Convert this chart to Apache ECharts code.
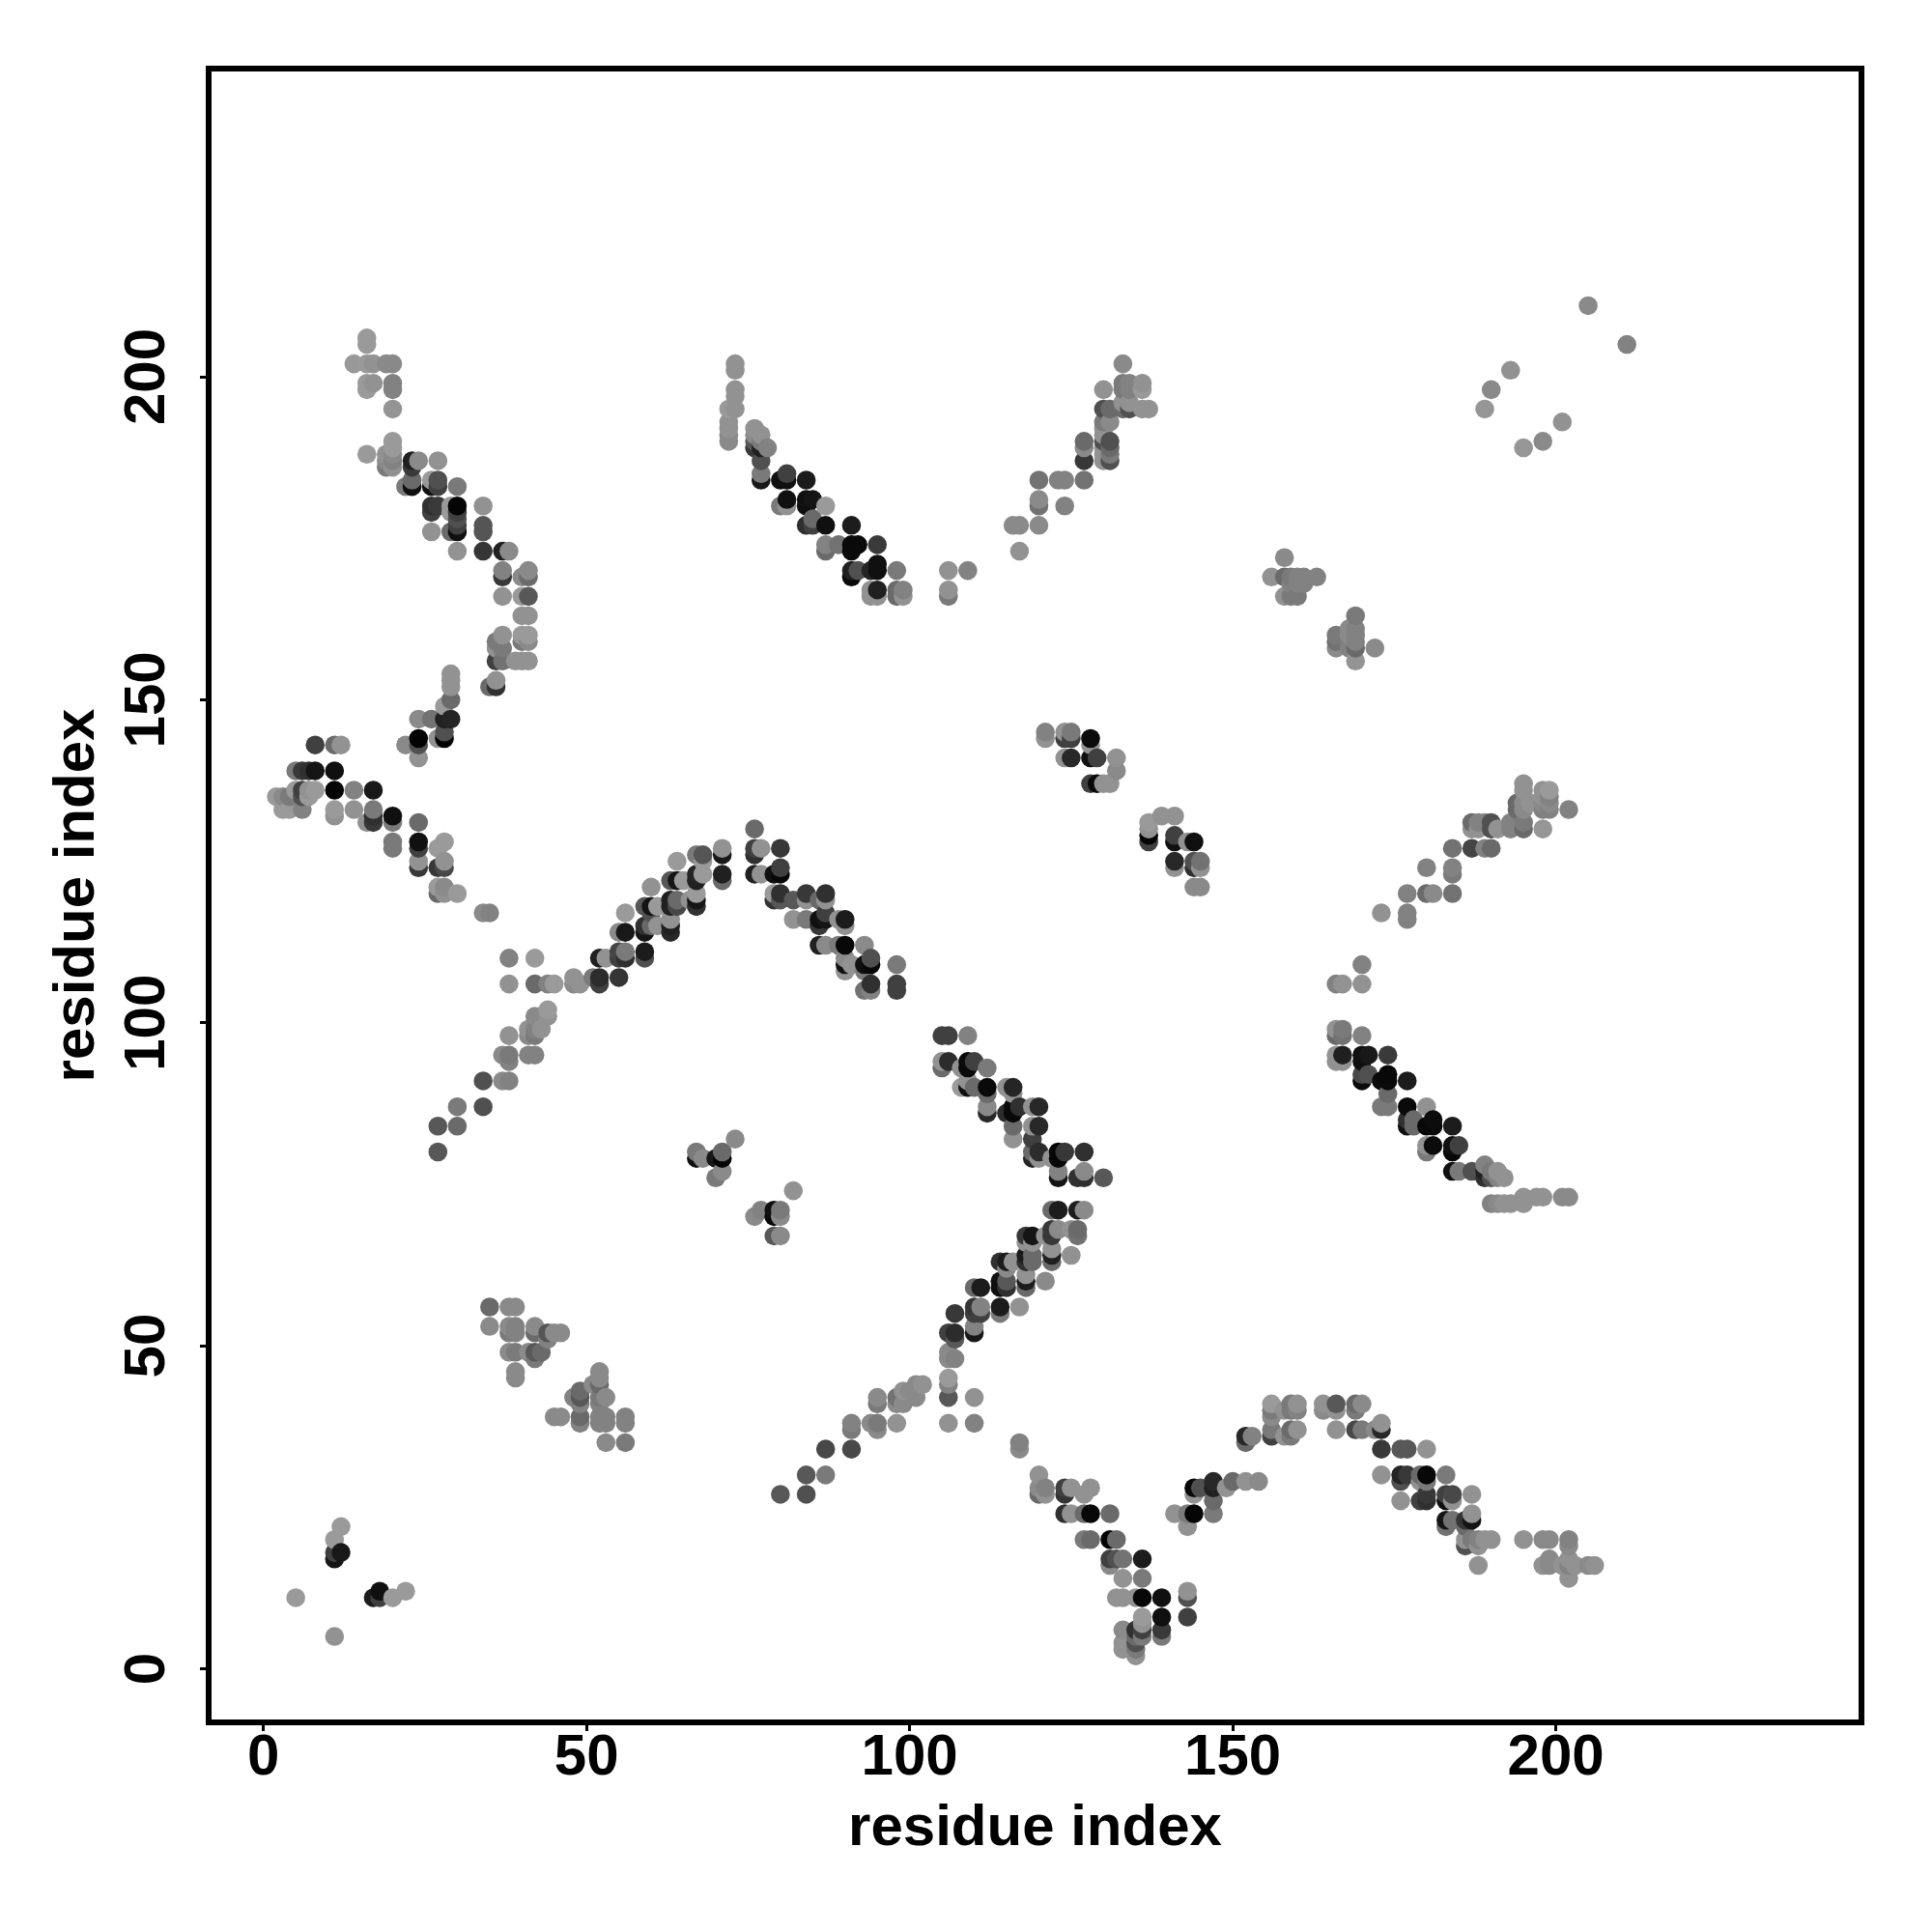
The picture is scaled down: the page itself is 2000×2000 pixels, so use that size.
<!DOCTYPE html>
<html><head><meta charset="utf-8">
<script src="https://cdn.jsdelivr.net/npm/echarts@6/dist/echarts.min.js"></script>
<style>html,body{margin:0;padding:0;background:#fff}#c{width:2000px;height:2000px}</style>
</head><body><div id="c"></div>
<script>
// each entry: [residue x, residue y, grey level of the dot]
const topLeftArc = [[16,206,0x90],[16,205,0x90],[14,202,0x8f],[16,202,0x90],[17,202,0x88],[19,202,0x80],[20,202,0x7f],[16,199,0x90],[16,198,0x90],[17,199,0x88],[20,199,0x78],[20,198,0x78],[20,195,0x8a],[20,190,0x90],[20,189,0x90],[19,188,0x88],[16,188,0x90],[19,186,0x70],[19,187,0x80],[20,188,0x80],[20,187,0x78],[20,186,0x88],[23,187,0x20],[23,186,0x3a],[24,187,0x80],[27,187,0x88],[22,183,0x70],[23,184,0x60],[23,183,0x10],[26,184,0x90],[26,183,0x10],[27,184,0x50],[27,183,0x40],[30,183,0x70],[26,180,0x30],[27,180,0x3a],[26,179,0x40],[29,180,0x90],[30,180,0x05],[29,179,0x90],[30,179,0x40],[30,178,0x50],[30,177,0x40],[30,176,0x10],[29,176,0x60],[34,180,0x88],[34,177,0x55],[34,176,0x55],[26,176,0x88],[30,173,0x88],[34,173,0x35],[37,173,0x20],[38,173,0x80],[37,170,0x78],[37,169,0x38],[40,169,0x80],[41,170,0x80],[41,169,0x60],[37,166,0x88],[40,166,0x90],[41,166,0x58],[40,163,0x88],[41,163,0x88],[37,160,0x88],[36,159,0x70],[37,158,0x70],[36,158,0x88],[40,160,0x90],[41,160,0x90],[40,159,0x70],[41,159,0x80],[36,156,0x40],[37,156,0x68],[39,156,0x88],[40,156,0x88],[41,156,0x88],[36,153,0x88],[35,152,0x60],[36,152,0x30],[29,154,0x88],[29,153,0x88],[29,152,0x88],[29,150,0x60],[28,149,0x90],[24,147,0x80],[26,147,0x68],[28,147,0x20],[29,147,0x25],[22,143,0x80],[24,144,0x03],[24,143,0x50],[24,141,0x88],[27,144,0x88],[28,144,0x05],[28,145,0x50],[8,143,0x40],[11,143,0x60],[12,143,0x88],[5,139,0x70],[6,139,0x38],[7,139,0x30],[8,139,0x15],[11,139,0x10]];
const middleLeftBand = [[2,135,0x90],[3,135,0x80],[4,135,0x70],[5,136,0x90],[6,136,0x40],[7,136,0x88],[8,136,0x90],[6,135,0x50],[7,135,0x90],[3,133,0x90],[4,133,0x90],[6,133,0x78],[11,136,0x05],[14,136,0x78],[17,136,0x18],[11,133,0x90],[11,132,0x88],[14,133,0x88],[16,131,0x88],[17,133,0x70],[17,132,0x30],[17,131,0x38],[20,132,0x10],[20,131,0x70],[24,131,0x60],[20,128,0x70],[20,127,0x70],[24,128,0x10],[24,127,0x40],[24,125,0x88],[24,124,0x38],[28,128,0x90],[27,127,0x90],[28,125,0x88],[27,124,0x38],[28,124,0x48],[27,121,0x90],[28,121,0x80],[27,120,0x60],[28,120,0x88],[30,120,0x90],[34,117,0x80],[35,117,0x78],[38,110,0x78],[42,110,0x90],[38,106,0x88],[42,106,0x60],[44,106,0x78],[45,106,0x90],[48,107,0x88],[48,106,0x80],[49,106,0x88],[51,107,0x70],[52,107,0x2c],[52,106,0x40],[55,107,0x35]];
const centralPeak = [[52,110,0x20],[53,110,0x88],[55,111,0x45],[56,111,0x70],[55,110,0x40],[56,110,0x30],[59,111,0x1c],[59,110,0x50],[55,114,0x80],[56,114,0x18],[59,115,0x30],[59,114,0x15],[60,115,0x60],[61,115,0x88],[63,116,0x88],[63,115,0x20],[63,114,0x28],[56,117,0x90],[59,118,0x58],[60,118,0x15],[61,118,0x90],[60,117,0x50],[60,121,0x88],[63,119,0x20],[63,118,0x20],[64,119,0x60],[64,118,0x48],[63,122,0x58],[64,122,0x15],[65,122,0x90],[66,119,0x88],[67,119,0x15],[67,118,0x30],[64,125,0x90],[67,126,0x70],[68,126,0x55],[68,125,0x90],[67,123,0x25],[67,122,0x20],[68,123,0x90],[67,120,0x90],[71,127,0x88],[71,126,0x18],[71,123,0x20],[71,122,0x60],[76,130,0x60],[76,127,0x40],[76,126,0x30],[77,127,0x88],[80,127,0x38],[76,123,0x20],[77,123,0x88],[79,123,0x10],[80,124,0x40],[80,123,0x08],[79,120,0x90],[79,119,0x35],[80,120,0x30],[80,119,0x58],[82,119,0x58],[84,120,0x38],[84,119,0x88],[86,119,0x60],[87,120,0x30],[87,119,0x88],[82,116,0x88],[84,116,0x70],[86,116,0x10],[86,115,0x38],[87,117,0x40],[87,116,0x15],[89,116,0x88],[90,116,0x1c],[90,115,0x88],[86,112,0x20],[87,112,0x80],[89,112,0x70],[90,112,0x08],[93,112,0x80],[90,110,0x80],[90,109,0x10],[90,108,0x88],[91,109,0x88],[93,109,0x10],[94,110,0x50],[94,109,0x08],[93,108,0x70],[93,105,0x68],[94,106,0x30],[94,105,0x78],[98,109,0x70],[98,106,0x40],[98,105,0x40]];
const topMiddleArc = [[73,202,0x88],[73,201,0x88],[73,198,0x88],[73,197,0x88],[72,195,0x90],[73,195,0x88],[72,193,0x88],[72,192,0x88],[72,191,0x80],[72,190,0x80],[76,192,0x88],[77,191,0x88],[76,191,0x80],[76,190,0x58],[76,189,0x38],[77,190,0x70],[77,189,0x20],[78,189,0x78],[77,187,0x50],[77,185,0x70],[77,184,0x18],[80,184,0x10],[81,185,0x40],[81,184,0x10],[84,184,0x1c],[80,180,0x70],[81,181,0x10],[81,180,0x88],[84,181,0x10],[85,181,0x15],[84,180,0x10],[87,180,0x90],[84,177,0x30],[85,178,0x60],[85,177,0x40],[87,177,0x10],[91,177,0x1c],[87,174,0x78],[87,173,0x60],[89,174,0x68],[91,174,0x0a],[92,174,0x0a],[91,173,0x0a],[95,174,0x3a],[91,170,0x20],[91,169,0x0a],[92,170,0x50],[94,170,0x25],[95,171,0x10],[95,170,0x10],[98,170,0x70],[94,167,0x88],[95,167,0x20],[95,166,0x88],[94,166,0x88],[98,167,0x60],[98,166,0x60],[99,167,0x78],[99,166,0x88],[106,170,0x88],[109,170,0x78],[106,167,0x88],[106,166,0x70],[117,173,0x88],[116,177,0x80],[117,177,0x80],[120,177,0x80],[120,181,0x80],[120,180,0x68],[124,180,0x78],[120,184,0x68],[123,184,0x78],[124,184,0x78],[127,184,0x68],[127,187,0x38],[127,189,0x80],[127,190,0x60],[130,193,0x70],[130,192,0x88],[130,191,0x88],[130,190,0x50],[130,189,0x88],[130,188,0x88],[130,187,0x88],[131,190,0x50],[131,189,0x60],[131,188,0x70],[131,187,0x50],[131,193,0x80],[130,195,0x50],[131,195,0x60],[130,198,0x88],[133,202,0x80],[133,199,0x70],[134,199,0x78],[133,198,0x70],[134,198,0x78],[136,199,0x88],[136,198,0x90],[133,195,0x60],[134,195,0x50],[134,196,0x88],[133,196,0x88],[136,195,0x88],[137,195,0x88]];
const topRightPatches = [[205,211,0x80],[211,205,0x78],[193,201,0x88],[190,198,0x80],[189,195,0x8c],[201,193,0x88],[198,190,0x80],[195,189,0x8c],[158,172,0x80],[156,169,0x88],[158,169,0x60],[159,169,0x70],[160,169,0x78],[161,169,0x78],[163,169,0x78],[158,166,0x88],[159,166,0x70],[160,166,0x70],[160,168,0x78],[161,168,0x78],[159,168,0x78],[169,163,0x70],[168,161,0x80],[169,161,0x78],[169,160,0x78],[168,160,0x80],[166,160,0x70],[166,159,0x68],[166,158,0x80],[169,159,0x78],[169,158,0x60],[168,158,0x78],[172,158,0x80],[169,156,0x8a]];
const midRightPatch = [[121,145,0x78],[121,144,0x88],[124,145,0x88],[124,144,0x40],[125,145,0x70],[125,144,0x40],[128,144,0x0c],[128,143,0x88],[124,141,0x88],[125,141,0x28],[128,141,0x10],[129,141,0x40],[132,141,0x88],[132,139,0x80],[128,137,0x40],[129,137,0x0a],[130,137,0x88],[131,137,0x88],[137,131,0x90],[137,130,0x88],[137,129,0x05],[137,128,0x40],[139,132,0x88],[141,132,0x88],[141,129,0x40],[141,128,0x10],[143,128,0x88],[144,128,0x10],[141,125,0x28],[141,124,0x88],[144,125,0x50],[145,125,0x68],[144,124,0x30],[145,124,0x88],[144,121,0x80],[145,121,0x80]];
const rightArcUpper = [[195,137,0x88],[195,136,0x88],[194,134,0x60],[195,134,0x80],[196,134,0x88],[195,133,0x80],[194,133,0x60],[198,136,0x88],[199,136,0x90],[198,135,0x88],[199,135,0x78],[198,133,0x78],[199,133,0x78],[198,134,0x80],[199,134,0x80],[202,133,0x78],[198,130,0x8c],[195,131,0x70],[195,130,0x60],[193,131,0x78],[193,130,0x78],[191,130,0x88],[187,131,0x60],[187,130,0x88],[188,131,0x78],[189,131,0x78],[190,131,0x50],[190,130,0x50],[188,130,0x88],[184,127,0x68],[187,127,0x45],[189,127,0x78],[190,127,0x60],[180,124,0x78],[184,124,0x78],[184,123,0x70],[177,120,0x78],[180,120,0x60],[181,120,0x80],[184,120,0x68],[173,117,0x88],[177,117,0x78],[177,116,0x78],[170,109,0x78],[166,106,0x78],[167,106,0x88],[170,106,0x88]];
const rightArcLower = [[166,99,0x88],[167,99,0x70],[166,98,0x60],[167,98,0x68],[170,98,0x78],[166,95,0x88],[167,95,0x20],[166,94,0x88],[167,94,0x88],[170,95,0x10],[171,95,0x18],[170,94,0x10],[174,95,0x3a],[170,92,0x48],[171,92,0x50],[170,91,0x0a],[173,91,0x0a],[174,92,0x08],[174,91,0x0a],[177,91,0x1c],[174,89,0x60],[173,87,0x70],[174,87,0x70],[177,87,0x0a],[180,87,0x88],[177,85,0x30],[177,84,0x10],[178,85,0x60],[178,84,0x60],[180,84,0x08],[181,85,0x0c],[181,84,0x0a],[184,84,0x1c],[180,81,0x88],[180,80,0x70],[181,81,0x0c],[184,81,0x10],[184,80,0x08],[185,81,0x40],[184,77,0x10],[185,77,0x70],[187,77,0x50],[189,78,0x78],[189,76,0x30],[190,77,0x70],[191,77,0x88],[192,76,0x88],[189,77,0x20],[190,76,0x50],[191,76,0x78],[190,72,0x78],[191,72,0x80],[192,72,0x88],[193,72,0x88],[195,73,0x88],[195,72,0x88],[197,73,0x88],[198,73,0x88],[201,73,0x80],[202,73,0x80]];
const centerZigZag = [[105,98,0x40],[106,98,0x40],[109,98,0x78],[105,94,0x88],[105,93,0x60],[106,94,0x2c],[108,93,0x88],[109,94,0x0a],[109,93,0x0a],[110,94,0x40],[112,93,0x70],[108,90,0x90],[109,90,0x10],[109,91,0x88],[110,90,0x60],[112,90,0x0a],[112,89,0x60],[112,87,0x80],[112,86,0x28],[115,90,0x88],[116,90,0x25],[116,89,0x88],[115,86,0x2c],[116,87,0x0a],[116,86,0x0a],[117,87,0x30],[119,87,0x88],[120,87,0x28],[116,84,0x60],[116,82,0x88],[119,84,0x88],[120,84,0x28],[119,82,0x40],[119,80,0x60],[119,79,0x25],[120,80,0x2c],[120,79,0x88],[122,79,0x88],[123,80,0x05],[123,79,0x08],[124,80,0x38],[127,80,0x30],[123,77,0x78],[123,76,0x15],[126,76,0x30],[127,77,0x80],[127,76,0x30],[130,76,0x58],[122,71,0x60],[123,71,0x1c],[126,71,0x1c],[127,71,0x80],[122,68,0x38],[122,67,0x38],[123,68,0x80],[126,68,0x60],[126,67,0x68],[125,68,0x88],[118,67,0x38],[119,67,0x15],[121,67,0x88],[118,66,0x88],[119,66,0x88],[122,65,0x88],[122,64,0x20],[122,63,0x60],[125,64,0x88],[118,64,0x1c],[119,64,0x60],[118,63,0x30],[119,63,0x60],[114,63,0x30],[115,63,0x1c],[116,63,0x88],[115,62,0x80],[114,60,0x10],[115,60,0x58],[115,59,0x30],[114,59,0x10],[118,61,0x88],[118,60,0x1c],[118,59,0x60],[121,60,0x80],[110,59,0x60],[111,59,0x1c],[114,56,0x1c],[114,55,0x70],[117,56,0x88],[107,55,0x38],[110,56,0x35],[111,56,0x78],[110,55,0x40],[111,55,0x40],[106,52,0x40],[107,52,0x2c],[107,51,0x58],[110,53,0x78],[110,52,0x18],[106,49,0x80],[106,48,0x80],[107,48,0x78],[106,45,0x90],[106,44,0x78],[106,42,0x58],[110,42,0x88]];
const lowerCenterArc = [[80,27,0x58],[84,27,0x50],[84,30,0x58],[87,30,0x70],[87,34,0x48],[91,34,0x48],[91,38,0x78],[91,37,0x70],[94,38,0x80],[95,38,0x70],[95,37,0x80],[98,38,0x88],[95,42,0x80],[95,41,0x70],[98,42,0x68],[98,41,0x80],[99,43,0x88],[99,41,0x80],[101,42,0x80],[101,44,0x80],[102,44,0x88],[100,43,0x80],[106,38,0x88],[110,38,0x78],[117,35,0x78],[117,34,0x80],[120,30,0x88],[120,28,0x80],[120,27,0x60],[121,28,0x78],[121,27,0x88],[124,28,0x40],[124,27,0x35],[125,28,0x88],[127,27,0x88],[128,28,0x88],[124,24,0x30],[125,24,0x88],[127,24,0x60],[128,24,0x08],[131,24,0x60],[127,20,0x70],[128,20,0x60],[131,20,0x05],[132,20,0x60],[131,17,0x40],[132,17,0x50],[133,17,0x68],[136,17,0x1c],[131,16,0x80],[133,14,0x88],[136,14,0x70],[132,11,0x88],[133,11,0x88],[135,11,0x88],[136,11,0x08],[139,11,0x10],[143,12,0x88],[143,11,0x50],[139,8,0x10],[139,6,0x3a],[139,5,0x70],[143,8,0x40],[136,8,0x90],[136,7,0x88],[136,6,0x40],[136,5,0x70],[135,6,0x30],[135,5,0x60],[135,4,0x50],[135,3,0x70],[135,2,0x88],[133,6,0x80],[133,4,0x88],[133,3,0x88],[141,24,0x88],[143,24,0x70],[144,24,0x05],[143,22,0x88],[144,28,0x08],[145,28,0x50],[144,27,0x88],[147,29,0x28],[147,28,0x20],[147,26,0x60],[147,24,0x70],[149,28,0x88]];
const lowerRightArc = [[150,29,0x60],[152,29,0x88],[154,29,0x80],[152,36,0x28],[152,35,0x60],[153,36,0x78],[156,41,0x90],[156,40,0x70],[156,39,0x80],[156,37,0x70],[156,36,0x40],[159,41,0x70],[160,41,0x88],[158,40,0x88],[159,40,0x70],[160,40,0x78],[158,36,0x88],[159,37,0x60],[159,36,0x70],[160,37,0x88],[164,41,0x88],[164,40,0x80],[166,41,0x58],[166,40,0x88],[166,37,0x88],[169,41,0x60],[169,40,0x70],[170,41,0x80],[169,37,0x48],[170,37,0x70],[172,37,0x80],[173,38,0x88],[173,37,0x28],[173,34,0x38],[176,34,0x58],[177,34,0x58],[180,34,0x88],[173,30,0x88],[176,30,0x25],[177,30,0x38],[176,29,0x50],[179,30,0x60],[180,30,0x08],[179,29,0x88],[180,29,0x70],[183,30,0x70],[176,26,0x88],[179,26,0x40],[180,27,0x38],[180,26,0x30],[183,27,0x40],[184,27,0x48],[183,26,0x10],[184,26,0x88],[187,27,0x88],[183,23,0x15],[183,22,0x68],[184,23,0x68],[186,23,0x35],[187,24,0x88],[187,23,0x15],[186,22,0x60],[186,20,0x88],[186,19,0x50],[187,20,0x70],[188,20,0x78],[188,19,0x88],[189,20,0x88],[190,20,0x88],[188,16,0x88],[195,20,0x88],[198,20,0x80],[199,20,0x80],[202,20,0x78],[202,19,0x80],[199,17,0x80],[198,16,0x88],[199,16,0x80],[201,16,0x88],[202,17,0x88],[202,16,0x78],[202,14,0x88],[203,16,0x88],[205,16,0x80],[206,16,0x88]];
const lowerLeftPatches = [[35,56,0x60],[38,56,0x80],[39,56,0x80],[35,53,0x80],[38,53,0x80],[39,53,0x78],[38,52,0x70],[39,52,0x78],[42,53,0x80],[42,52,0x60],[44,52,0x55],[45,52,0x80],[46,52,0x80],[44,51,0x78],[38,49,0x80],[39,49,0x70],[41,49,0x80],[42,49,0x58],[43,49,0x60],[42,48,0x70],[39,46,0x80],[39,45,0x80],[52,46,0x80],[52,45,0x80],[51,44,0x80],[52,44,0x60],[49,43,0x60],[48,42,0x78],[49,42,0x58],[49,41,0x78],[52,42,0x70],[53,42,0x80],[52,41,0x78],[45,39,0x80],[46,39,0x80],[49,39,0x60],[49,38,0x78],[52,39,0x78],[53,39,0x78],[52,38,0x78],[53,38,0x78],[56,39,0x78],[56,38,0x78],[53,35,0x80],[56,35,0x70]];
const risingStrand = [[44,102,0x90],[44,101,0x88],[42,101,0x80],[41,99,0x88],[42,99,0x78],[43,99,0x88],[41,98,0x80],[42,98,0x70],[38,98,0x88],[37,95,0x80],[38,95,0x70],[38,94,0x78],[41,95,0x78],[42,95,0x78],[34,91,0x50],[37,91,0x80],[38,91,0x78],[30,87,0x70],[34,87,0x50],[27,84,0x58],[30,84,0x60],[27,80,0x58]];
const innerPatch = [[67,80,0x70],[67,79,0x10],[68,79,0x80],[70,79,0x18],[71,80,0x60],[71,79,0x05],[71,77,0x80],[70,76,0x70],[73,82,0x80],[82,74,0x88],[76,70,0x80],[77,71,0x78],[79,71,0x10],[79,70,0x08],[80,71,0x70],[80,70,0x80],[79,67,0x58],[80,67,0x80]];
const cornerPatch = [[5,11,0x90],[11,5,0x88],[12,22,0x90],[11,20,0x90],[11,18,0x40],[11,17,0x15],[12,18,0x18],[17,11,0x1c],[18,12,0x10],[18,11,0x40],[20,11,0x90],[22,12,0x90]];

const xTickValues = [0, 50, 100, 150, 200];
const yTickValues = [0, 50, 100, 150, 200];
const axisTitle = 'residue index';

const allGroups = [topLeftArc, middleLeftBand, centralPeak, topMiddleArc, topRightPatches, midRightPatch, rightArcUpper, rightArcLower, centerZigZag, lowerCenterArc, lowerRightArc, lowerLeftPatches, risingStrand, innerPatch, cornerPatch];
const seen = new Map();
allGroups.forEach(g => g.forEach(p => { const k = p[0] + '_' + p[1]; if (!seen.has(k)) seen.set(k, p); }));
const points = Array.from(seen.values()).sort((a, b) => a[0] - b[0] || a[1] - b[1]);

const FONT = '"Liberation Sans", Arial, sans-serif';
const chart = echarts.init(document.getElementById('c'), null, { renderer: 'canvas' });
const axisCommon = {
  type: 'value',
  splitLine: { show: false },
  axisLine: { show: false, onZero: false },
  axisTick: { show: true, length: 9, inside: false, lineStyle: { color: '#000', width: 3 } },
  nameLocation: 'middle',
  name: axisTitle,
  nameTextStyle: { fontFamily: FONT, fontWeight: 'bold', fontSize: 60, color: '#000' }
};
// lighter greys were read slightly too dark from the picture
const shadeToGrey = g => g >= 0x60 ? g + 10 : g;
chart.setOption({
  animation: false,
  backgroundColor: '#fff',
  grid: { left: 216, top: 71, width: 1711, height: 1712, show: true, borderColor: '#000', borderWidth: 6, backgroundColor: 'transparent', containLabel: false },
  xAxis: Object.assign({}, axisCommon, {
    min: -8.48, max: 247.3,
    nameGap: 80,
    axisTick: Object.assign({}, axisCommon.axisTick, { customValues: xTickValues }),
    axisLabel: { customValues: xTickValues, formatter: v => String(v), fontFamily: FONT, fontWeight: 'bold', fontSize: 60, color: '#000', margin: 7 }
  }),
  yAxis: Object.assign({}, axisCommon, {
    min: -8.3, max: 247.7,
    nameGap: 106, nameRotate: 90,
    axisTick: Object.assign({}, axisCommon.axisTick, { customValues: yTickValues }),
    axisLabel: { customValues: yTickValues, formatter: v => String(v), rotate: 90, fontFamily: FONT, fontWeight: 'bold', fontSize: 60, color: '#000', margin: 63, verticalAlign: 'middle', align: 'center' }
  }),
  series: [{
    type: 'scatter',
    data: points,
    encode: { x: 0, y: 1 },
    symbol: 'circle',
    symbolSize: 19.6,
    large: false,
    progressive: 0,
    itemStyle: { color: p => { const g = shadeToGrey(p.data[2]); return 'rgb(' + g + ',' + g + ',' + g + ')'; }, opacity: 1 }
  }]
});
</script></body></html>
